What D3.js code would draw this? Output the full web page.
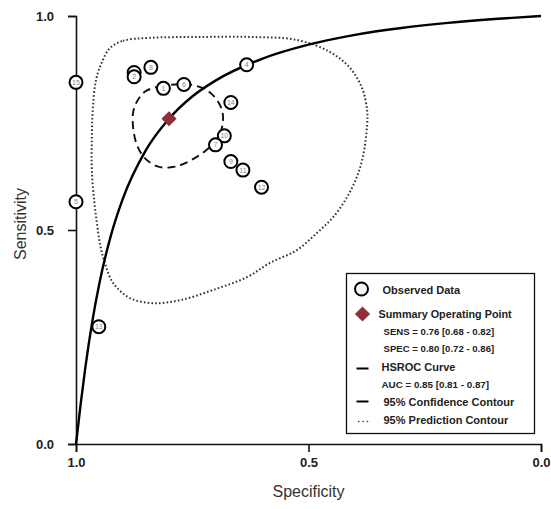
<!DOCTYPE html>
<html>
<head>
<meta charset="utf-8">
<script src="https://cdn.jsdelivr.net/npm/d3@7"></script>
<style>
  html, body { margin: 0; padding: 0; background: #fff; }
  svg { display: block; font-family: "Liberation Sans", Arial, Helvetica, sans-serif; }
</style>
</head>
<body>
<svg id="chart" width="551" height="509"></svg>
<script>
// Observed studies: specificity, sensitivity and study number
const studyIds  = [15, 5, 13, 16, 2, 8, 1, 6, 4, 14, 10, 7, 9, 11, 12];
const studySpec = [1.0, 1.0, 0.951, 0.875, 0.875, 0.839, 0.812, 0.768, 0.633, 0.667, 0.681, 0.700, 0.667, 0.641, 0.601];
const studySens = [0.845, 0.566, 0.274, 0.868, 0.858, 0.880, 0.831, 0.840, 0.886, 0.798, 0.720, 0.699, 0.660, 0.640, 0.600];

// Summary operating point
const summarySens = 0.76;
const summarySpec = 0.80;

// HSROC curve, sampled along specificity
const hsrocSpec = [1.0, 0.998, 0.995, 0.99, 0.98, 0.965, 0.95, 0.925, 0.9, 0.85, 0.8, 0.75, 0.7, 0.6, 0.5, 0.4, 0.3, 0.2, 0.1, 0.0];
const hsrocSens = [0.0, 0.018, 0.046, 0.093, 0.178, 0.286, 0.374, 0.487, 0.571, 0.686, 0.760, 0.812, 0.849, 0.900, 0.933, 0.956, 0.972, 0.984, 0.993, 1.0];

// 95% confidence contour around the summary point
const confSpec = [0.852, 0.823, 0.787, 0.751, 0.719, 0.697, 0.685, 0.685, 0.694, 0.715, 0.751, 0.787, 0.823, 0.852, 0.869, 0.877, 0.877, 0.869];
const confSens = [0.823, 0.835, 0.840, 0.839, 0.827, 0.804, 0.776, 0.745, 0.718, 0.691, 0.664, 0.648, 0.648, 0.668, 0.699, 0.738, 0.776, 0.800];

// 95% prediction contour
const predSpec = [0.927, 0.899, 0.841, 0.733, 0.626, 0.525, 0.454, 0.411, 0.385, 0.374, 0.374, 0.383, 0.396, 0.417, 0.447, 0.482, 0.525, 0.583, 0.632, 0.705, 0.776, 0.834, 0.884, 0.920, 0.938, 0.948, 0.955, 0.961, 0.966, 0.966, 0.964, 0.957, 0.944];
const predSens = [0.925, 0.942, 0.949, 0.951, 0.951, 0.944, 0.916, 0.879, 0.832, 0.780, 0.745, 0.671, 0.624, 0.577, 0.530, 0.493, 0.453, 0.423, 0.390, 0.360, 0.336, 0.329, 0.341, 0.376, 0.423, 0.465, 0.516, 0.570, 0.640, 0.710, 0.780, 0.850, 0.893];

// Axis ticks
const tickValues = [1.0, 0.5, 0.0];

// Legend entries
const legendLabels = ["Observed Data", "Summary Operating Point", "SENS = 0.76 [0.68 - 0.82]", "SPEC = 0.80 [0.72 - 0.86]",
                      "HSROC Curve", "AUC = 0.85 [0.81 - 0.87]", "95% Confidence Contour", "95% Prediction Contour"];

const svg = d3.select("#chart");
const x = d3.scaleLinear().domain([1, 0]).range([76, 541]);
const y = d3.scaleLinear().domain([0, 1]).range([444, 16]);

// Prediction contour (dotted)
const closedLine = d3.line()
  .x(d => x(d[0])).y(d => y(d[1]))
  .curve(d3.curveCatmullRomClosed.alpha(0.5));

svg.append("path")
  .attr("d", closedLine(predSpec.map((s, i) => [s, predSens[i]])))
  .attr("fill", "none").attr("stroke", "#333")
  .attr("stroke-width", 2).attr("stroke-dasharray", "1.6,2.2");

// Confidence contour (dashed)
svg.append("path")
  .attr("d", closedLine(confSpec.map((s, i) => [s, confSens[i]])))
  .attr("fill", "none").attr("stroke", "#111")
  .attr("stroke-width", 1.9).attr("stroke-dasharray", "8,5");

// Axes
const xAxis = d3.axisBottom(x).tickValues(tickValues).tickFormat(d3.format(".1f")).tickSizeOuter(0).tickSize(8).tickPadding(6);
const yAxis = d3.axisLeft(y).tickValues(tickValues).tickFormat(d3.format(".1f")).tickSizeOuter(0).tickSize(8).tickPadding(14);

const gx = svg.append("g").attr("transform", `translate(0,${y(0)})`).call(xAxis);
const gy = svg.append("g").attr("transform", `translate(${x(1)},0)`).call(yAxis);
[gx, gy].forEach(g => {
  g.select(".domain").attr("stroke", "#111").attr("stroke-width", 1.6);
  g.selectAll(".tick line").attr("stroke", "#111").attr("stroke-width", 1.6);
  g.selectAll(".tick text").attr("fill", "#222").attr("font-size", 13).attr("font-weight", "bold")
    .attr("font-family", "'Liberation Sans', Arial, sans-serif");
});

// HSROC curve
const curveLine = d3.line().x(d => x(d[0])).y(d => y(d[1])).curve(d3.curveMonotoneX);
svg.append("path")
  .attr("d", curveLine(hsrocSpec.map((s, i) => [s, hsrocSens[i]])))
  .attr("fill", "none").attr("stroke", "#000").attr("stroke-width", 2.4);

// Observed studies
const studies = studyIds.map((id, i) => ({ id, spec: studySpec[i], sens: studySens[i] }));
const pts = svg.append("g").selectAll("g").data(studies).join("g")
  .attr("transform", d => `translate(${x(d.spec)},${y(d.sens)})`);
pts.append("circle").attr("r", 6.5).attr("fill", "#fff").attr("stroke", "#000").attr("stroke-width", 2);
pts.append("text").text(d => d.id)
  .attr("text-anchor", "middle").attr("dy", "0.35em")
  .attr("font-size", 7).attr("fill", "#888");

// Summary operating point
const diamond = d3.symbol().type(d3.symbolSquare).size(115);
svg.append("path").attr("d", diamond())
  .attr("transform", `translate(${x(summarySpec)},${y(summarySens)}) rotate(45)`)
  .attr("fill", "#8e2f3b");

// Axis titles
svg.append("text").text("Specificity")
  .attr("x", x(0.5)).attr("y", 497).attr("text-anchor", "middle")
  .attr("font-size", 16).attr("fill", "#333");
svg.append("text").text("Sensitivity")
  .attr("transform", "translate(26,224) rotate(-90)").attr("text-anchor", "middle")
  .attr("font-size", 16).attr("fill", "#333");

// Legend
const lg = svg.append("g");
lg.append("rect").attr("x", 346.5).attr("y", 273.5).attr("width", 188).attr("height", 160)
  .attr("fill", "#fff").attr("stroke", "#111").attr("stroke-width", 1.3);

lg.append("circle").attr("cx", 361.5).attr("cy", 289).attr("r", 6.5)
  .attr("fill", "#f4f4f4").attr("stroke", "#000").attr("stroke-width", 2);
lg.append("path").attr("d", diamond()).attr("transform", "translate(362.5,314) rotate(45)").attr("fill", "#8e2f3b");
lg.append("line").attr("x1", 356.5).attr("x2", 368.5).attr("y1", 368.5).attr("y2", 368.5)
  .attr("stroke", "#000").attr("stroke-width", 2);
lg.append("line").attr("x1", 356.5).attr("x2", 368.5).attr("y1", 401.5).attr("y2", 401.5)
  .attr("stroke", "#000").attr("stroke-width", 2);
lg.append("line").attr("x1", 358).attr("x2", 369).attr("y1", 421.5).attr("y2", 421.5)
  .attr("stroke", "#444").attr("stroke-width", 1.6).attr("stroke-dasharray", "1.4,3");

const legendPos = [
  [382.5, 293.5, 11], [378.5, 317.5, 10.8], [383.5, 334.5, 9.6], [383.5, 352, 9.6],
  [381.5, 371, 11], [381.5, 387.5, 9.8], [383.5, 405.5, 11], [383.5, 423.5, 11]
];
lg.selectAll("text.lbl").data(legendLabels).join("text").attr("class", "lbl")
  .text(d => d)
  .attr("x", (d, i) => legendPos[i][0]).attr("y", (d, i) => legendPos[i][1])
  .attr("font-size", (d, i) => legendPos[i][2]).attr("font-weight", "bold").attr("fill", "#222");
</script>
</body>
</html>
